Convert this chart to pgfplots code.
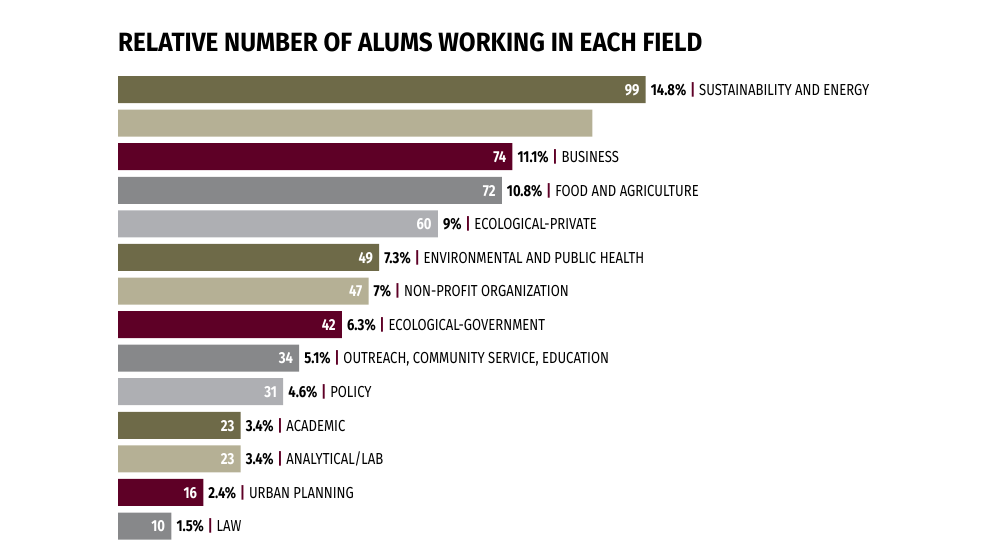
\documentclass[border=0pt]{standalone}
\usepackage{pgfplots}
\pgfplotsset{compat=1.18}
\usepackage{fontspec}
\setmainfont[FakeStretch=0.82]{Fira Sans}
\newfontfamily\titlefont[FakeStretch=0.92]{Fira Sans}
\definecolor{cOlive}{HTML}{6E6A48}
\definecolor{cTan}{HTML}{B5B095}
\definecolor{cMaroon}{HTML}{5E0026}
\definecolor{cDark}{HTML}{87888A}
\definecolor{cLight}{HTML}{AEAFB3}
\newcommand\fs{\fontsize{16}{16}\selectfont}
\newcommand\barlab[4]{%
  \node[anchor=base east, text=white, font=\bfseries\fs, inner sep=0, xshift=-6bp, yshift=-5.8bp] at (axis cs:#1,#2) {#1};
  \node[anchor=base west, font=\fs, inner sep=0, xshift=5bp, yshift=-5.8bp] at (axis cs:#1,#2) {\textbf{#3}\hspace{4bp}{\color{cMaroon}\textbf{|}}\hspace{4bp}#4};
}
\begin{document}
\begin{tikzpicture}[x=1bp,y=1bp]
\path[use as bounding box] (0,0) rectangle (1000,560);
\node[anchor=base west, font=\titlefont\bfseries\fontsize{26.5}{26.5}\selectfont, inner sep=0] at (118,508) {RELATIVE NUMBER OF ALUMS WORKING IN EACH FIELD};
\begin{axis}[at={(118bp,17.2bp)}, anchor=south west, scale only axis,
  width=533bp, height=470bp, xmin=0, xmax=100, ymin=-0.5, ymax=13.5,
  y dir=reverse, hide axis, clip=false, xbar, bar width=27bp, bar shift=0pt]
\addplot[draw=none, fill=cOlive] coordinates {(99,0) (49,5) (23,10)};
\addplot[draw=none, fill=cTan] coordinates {(89,1) (47,6) (23,11)};
\addplot[draw=none, fill=cMaroon] coordinates {(74,2) (42,7) (16,12)};
\addplot[draw=none, fill=cDark] coordinates {(72,3) (34,8) (10,13)};
\addplot[draw=none, fill=cLight] coordinates {(60,4) (31,9)};
\barlab{99}{0}{14.8\%}{SUSTAINABILITY AND ENERGY}
\barlab{74}{2}{11.1\%}{BUSINESS}
\barlab{72}{3}{10.8\%}{FOOD AND AGRICULTURE}
\barlab{60}{4}{9\%}{ECOLOGICAL-PRIVATE}
\barlab{49}{5}{7.3\%}{ENVIRONMENTAL AND PUBLIC HEALTH}
\barlab{47}{6}{7\%}{NON-PROFIT ORGANIZATION}
\barlab{42}{7}{6.3\%}{ECOLOGICAL-GOVERNMENT}
\barlab{34}{8}{5.1\%}{OUTREACH, COMMUNITY SERVICE, EDUCATION}
\barlab{31}{9}{4.6\%}{POLICY}
\barlab{23}{10}{3.4\%}{ACADEMIC}
\barlab{23}{11}{3.4\%}{ANALYTICAL/LAB}
\barlab{16}{12}{2.4\%}{URBAN PLANNING}
\barlab{10}{13}{1.5\%}{LAW}
\end{axis}
\end{tikzpicture}
\end{document}
